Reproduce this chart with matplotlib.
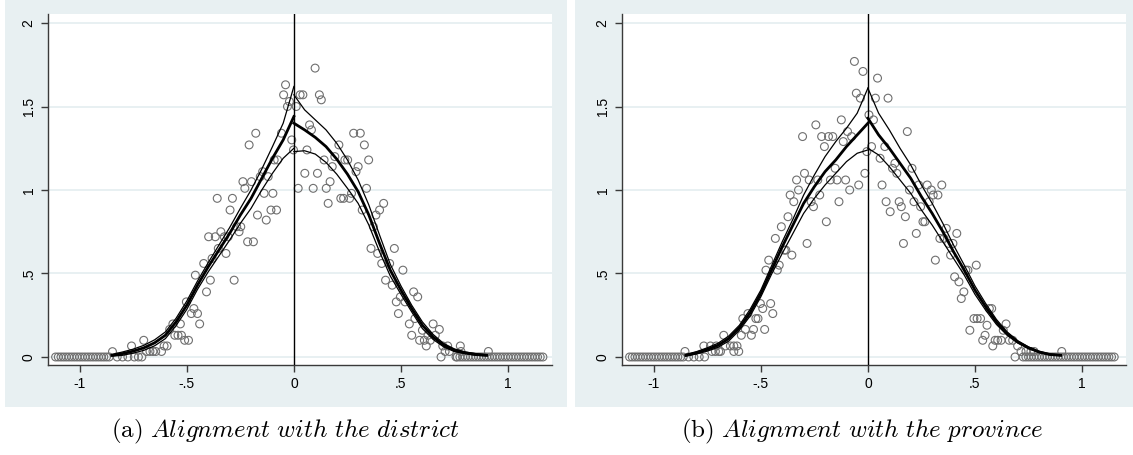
import matplotlib
matplotlib.use("Agg")
import matplotlib.pyplot as plt

plt.rcParams['font.family'] = ['Liberation Sans', 'DejaVu Sans']
plt.rcParams['mathtext.fontset'] = 'cm'

# binned means, alignment with the district
a_x = [-0.847, -0.758, -0.701, -0.688, -0.672, -0.658, -0.645, -0.618, -0.606, -0.592,
       -0.580, -0.565, -0.556, -0.541, -0.525, -0.530, -0.510, -0.492, -0.502, -0.479,
       -0.467, -0.450, -0.440, -0.460, -0.421, -0.408, -0.390, -0.398, -0.382, -0.367,
       -0.358, -0.353, -0.341, -0.325, -0.317, -0.307, -0.298, -0.287, -0.279, -0.267,
       -0.256, -0.248, -0.238, -0.229, -0.216, -0.209, -0.198, -0.189, -0.178, -0.170,
       -0.157, -0.146, -0.139, -0.129, -0.120, -0.107, -0.098, -0.092, -0.081, -0.076,
       -0.058, -0.048, -0.039, -0.030, -0.021, -0.010, -0.002,
       0.011, 0.020, 0.029, 0.042, 0.051, 0.061, 0.073, 0.082, 0.090, 0.099,
       0.110, 0.119, 0.128, 0.141, 0.151, 0.160, 0.169, 0.179, 0.191, 0.210,
       0.219, 0.232, 0.238, 0.251, 0.260, 0.269, 0.279, 0.290, 0.300, 0.310,
       0.319, 0.329, 0.339, 0.349, 0.360, 0.371, 0.383, 0.391, 0.400, 0.410,
       0.419, 0.428, 0.447, 0.459, 0.469, 0.478, 0.488, 0.497, 0.509, 0.519,
       0.539, 0.550, 0.559, 0.565, 0.578, 0.587, 0.600, 0.609, 0.618, 0.626,
       0.637, 0.650, 0.660, 0.679, 0.687, 0.695, 0.706, 0.718, 0.726, 0.757,
       0.777, 0.780, 0.908]
a_y = [0.032, 0.066, 0.10, 0.033, 0.033, 0.033, 0.033, 0.033, 0.066, 0.066,
       0.165, 0.198, 0.13, 0.13, 0.13, 0.198, 0.10, 0.10, 0.33, 0.26,
       0.29, 0.26, 0.198, 0.49, 0.56, 0.39, 0.46, 0.72, 0.59, 0.72,
       0.95, 0.65, 0.75, 0.72, 0.62, 0.72, 0.88, 0.95, 0.46, 0.78,
       0.75, 0.78, 1.05, 1.01, 0.69, 1.27, 1.05, 0.69, 1.34, 0.85,
       1.08, 1.11, 0.98, 0.82, 1.08, 0.88, 0.98, 1.18, 0.88, 1.18,
       1.34, 1.57, 1.63, 1.50, 1.53, 1.30, 1.24,
       1.50, 1.01, 1.57, 1.57, 1.10, 1.24, 1.39, 1.36, 1.01, 1.73,
       1.10, 1.57, 1.54, 1.18, 1.01, 0.92, 1.05, 1.14, 1.20, 1.27,
       0.95, 0.95, 1.18, 1.18, 0.95, 0.98, 1.34, 1.11, 1.14, 1.34,
       0.88, 1.27, 1.01, 1.18, 0.65, 0.78, 0.85, 0.62, 0.88, 0.56,
       0.92, 0.46, 0.56, 0.43, 0.65, 0.33, 0.26, 0.36, 0.52, 0.33,
       0.198, 0.13, 0.39, 0.23, 0.36, 0.10, 0.16, 0.10, 0.066, 0.13,
       0.10, 0.198, 0.13, 0.165, 0.0, 0.066, 0.033, 0.066, 0.033, 0.0,
       0.066, 0.033, 0.033]
a_zero_x = [-1.1125, -1.1, -1.0875, -1.075, -1.0625, -1.05, -1.0375, -1.025, -1.0125, -1.0,
            -0.9875, -0.975, -0.9625, -0.95, -0.9375, -0.925, -0.9125, -0.9, -0.8875, -0.875,
            -0.8625, -0.825, -0.80, -0.775, -0.745, -0.726, -0.71,
            0.7625, 0.775, 0.7875, 0.80, 0.8125, 0.825, 0.8375, 0.85, 0.8625, 0.875,
            0.8875, 0.90, 0.9125, 0.925, 0.9375, 0.95, 0.9625, 0.975, 0.9875, 1.0,
            1.0125, 1.025, 1.0375, 1.05, 1.0625, 1.075, 1.0875, 1.1, 1.1125, 1.125,
            1.1375, 1.15, 1.1625]

# binned means, alignment with the province
b_x = [-0.854, -0.766, -0.735, -0.708, -0.665, -0.642, -0.626, -0.611, -0.728, -0.712,
       -0.696, -0.688, -0.626, -0.603, -0.673, -0.591, -0.584, -0.572, -0.560, -0.544,
       -0.534, -0.523, -0.513, -0.502, -0.491, -0.482, -0.476, -0.463, -0.454, -0.444,
       -0.432, -0.423, -0.414, -0.404, -0.390, -0.383, -0.373, -0.363, -0.355, -0.346,
       -0.333, -0.324, -0.305, -0.296, -0.284, -0.274, -0.265, -0.254, -0.243, -0.234,
       -0.225, -0.216, -0.203, -0.194, -0.184, -0.164, -0.175, -0.144, -0.153, -0.135,
       -0.124, -0.115, -0.104, -0.095, -0.085, -0.076, -0.063, -0.054, -0.043, -0.035,
       -0.023, -0.014, -0.005, 0.005,
       0.017, 0.026, 0.035, 0.045, 0.057, 0.066, 0.079, 0.085, 0.094, 0.104,
       0.115, 0.126, 0.135, 0.146, 0.156, 0.166, 0.175, 0.184, 0.194, 0.206,
       0.215, 0.226, 0.237, 0.246, 0.257, 0.266, 0.277, 0.286, 0.296, 0.305,
       0.315, 0.327, 0.336, 0.345, 0.355, 0.366, 0.377, 0.386, 0.397, 0.405,
       0.415, 0.425, 0.436, 0.448, 0.457, 0.467, 0.476, 0.495, 0.510, 0.526,
       0.506, 0.536, 0.547, 0.556, 0.567, 0.578, 0.583, 0.594, 0.606, 0.622,
       0.632, 0.645, 0.660, 0.676, 0.687, 0.699, 0.715, 0.738, 0.761, 0.776,
       0.905]
b_y = [0.033, 0.066, 0.066, 0.066, 0.066, 0.066, 0.066, 0.066, 0.033, 0.033,
       0.033, 0.033, 0.033, 0.033, 0.13, 0.13, 0.23, 0.165, 0.26, 0.13,
       0.165, 0.23, 0.23, 0.32, 0.29, 0.165, 0.52, 0.58, 0.32, 0.26,
       0.71, 0.52, 0.55, 0.78, 0.64, 0.64, 0.84, 0.97, 0.61, 0.93,
       1.06, 1.00, 1.32, 1.10, 0.68, 1.06, 0.93, 0.90, 1.39, 1.06,
       0.97, 1.32, 1.26, 0.81, 1.32, 1.32, 1.06, 1.06, 1.13, 0.93,
       1.42, 1.29, 1.06, 1.35, 1.00, 1.32, 1.77, 1.58, 1.03, 1.55,
       1.71, 1.10, 1.23, 1.45,
       1.26, 1.42, 1.55, 1.67, 1.19, 1.03, 1.26, 0.93, 1.55, 0.87,
       1.13, 1.16, 1.10, 0.93, 0.90, 0.68, 0.84, 1.35, 1.00, 1.13,
       0.93, 0.74, 1.03, 0.90, 0.81, 0.81, 1.03, 0.93, 1.00, 0.97,
       0.58, 0.97, 0.71, 1.03, 0.71, 0.77, 0.68, 0.61, 0.68, 0.48,
       0.74, 0.45, 0.35, 0.39, 0.52, 0.52, 0.16, 0.23, 0.23, 0.23,
       0.55, 0.10, 0.13, 0.19, 0.29, 0.29, 0.066, 0.10, 0.10, 0.10,
       0.16, 0.198, 0.10, 0.10, 0.0, 0.066, 0.033, 0.033, 0.033, 0.033,
       0.033]
b_zero_x = [-1.1125, -1.1, -1.0875, -1.075, -1.0625, -1.05, -1.0375, -1.025, -1.0125, -1.0,
            -0.9875, -0.975, -0.9625, -0.95, -0.9375, -0.925, -0.9125, -0.9, -0.8875, -0.875,
            -0.8625, -0.8375, -0.8125, -0.7875, -0.7625,
            0.725, 0.7375, 0.75, 0.7625, 0.775, 0.7875, 0.80, 0.8125, 0.825, 0.8375,
            0.85, 0.8625, 0.875, 0.8875, 0.90, 0.9125, 0.925, 0.9375, 0.95, 0.9625,
            0.975, 0.9875, 1.0, 1.0125, 1.025, 1.0375, 1.05, 1.0625, 1.075, 1.0875,
            1.1, 1.1125, 1.125, 1.1375, 1.15]

# local polynomial fits with confidence bands, either side of the cutoff
left_x = [-0.85, -0.80, -0.75, -0.70, -0.65, -0.60, -0.55, -0.50, -0.45, -0.40,
          -0.35, -0.30, -0.25, -0.20, -0.15, -0.10, -0.05, 0.0]
right_x = [0.0, 0.05, 0.10, 0.15, 0.20, 0.25, 0.30, 0.35, 0.40, 0.45,
           0.50, 0.55, 0.60, 0.65, 0.70, 0.75, 0.80, 0.85, 0.90]

a_left_fit = [0.01, 0.02, 0.035, 0.055, 0.085, 0.13, 0.21, 0.31, 0.43, 0.54,
              0.64, 0.74, 0.85, 0.95, 1.07, 1.19, 1.30, 1.44]
a_left_hi = [0.015, 0.03, 0.047, 0.07, 0.103, 0.15, 0.232, 0.335, 0.455, 0.565,
             0.67, 0.775, 0.89, 1.00, 1.125, 1.26, 1.40, 1.62]
a_left_lo = [0.005, 0.01, 0.023, 0.04, 0.067, 0.11, 0.188, 0.285, 0.405, 0.51,
             0.605, 0.70, 0.80, 0.89, 1.00, 1.10, 1.19, 1.25]
a_right_fit = [1.40, 1.36, 1.315, 1.26, 1.185, 1.095, 0.99, 0.85, 0.68, 0.52,
               0.40, 0.29, 0.19, 0.12, 0.07, 0.04, 0.025, 0.015, 0.01]
a_right_hi = [1.57, 1.48, 1.42, 1.36, 1.28, 1.18, 1.06, 0.91, 0.73, 0.555,
              0.425, 0.31, 0.21, 0.135, 0.08, 0.048, 0.03, 0.02, 0.013]
a_right_lo = [1.23, 1.235, 1.215, 1.165, 1.095, 1.01, 0.92, 0.79, 0.63, 0.485,
              0.375, 0.27, 0.17, 0.105, 0.06, 0.032, 0.02, 0.01, 0.007]

b_left_fit = [0.01, 0.025, 0.045, 0.07, 0.11, 0.175, 0.265, 0.38, 0.52, 0.66,
              0.79, 0.92, 1.02, 1.11, 1.18, 1.26, 1.33, 1.40]
b_left_hi = [0.015, 0.032, 0.055, 0.082, 0.125, 0.19, 0.285, 0.40, 0.545, 0.69,
             0.825, 0.97, 1.09, 1.20, 1.29, 1.37, 1.46, 1.61]
b_left_lo = [0.005, 0.018, 0.035, 0.058, 0.095, 0.16, 0.245, 0.36, 0.495, 0.62,
             0.74, 0.86, 0.95, 1.03, 1.10, 1.17, 1.22, 1.24]
b_right_fit = [1.43, 1.33, 1.25, 1.16, 1.07, 0.96, 0.86, 0.75, 0.63, 0.52,
               0.40, 0.30, 0.21, 0.14, 0.09, 0.055, 0.03, 0.015, 0.01]
b_right_hi = [1.61, 1.46, 1.36, 1.25, 1.15, 1.03, 0.92, 0.80, 0.67, 0.55,
              0.425, 0.32, 0.225, 0.15, 0.097, 0.06, 0.034, 0.018, 0.012]
b_right_lo = [1.25, 1.21, 1.14, 1.06, 0.98, 0.88, 0.79, 0.69, 0.59, 0.49,
              0.375, 0.28, 0.195, 0.13, 0.083, 0.05, 0.026, 0.012, 0.008]

xticks = [-1, -0.5, 0, 0.5, 1]
xlabels = ['-1', '-.5', '0', '.5', '1']
yticks = [0, 0.5, 1, 1.5, 2]
ylabels = ['0', '.5', '1', '1.5', '2']

BG = '#E8F0F2'
GRID = '#E4EEF0'
AXC = '#3A3A3A'

fig = plt.figure(figsize=(11.33, 4.55), dpi=100)
fig.patch.set_facecolor('white')

# graph regions behind each plot
for x0 in (5 / 1133, 575 / 1133):
    bg = fig.add_axes([x0, 1 - 407 / 455, 562 / 1133, 407 / 455], zorder=-5)
    bg.set_facecolor(BG)
    bg.set_xticks([])
    bg.set_yticks([])
    for s in bg.spines.values():
        s.set_visible(False)


def panel(rect, sx, sy, zx, lfit, lhi, llo, rfit, rhi, rlo):
    ax = fig.add_axes(rect, zorder=1)
    ax.set_facecolor('white')
    ax.set_xlim(-1.148, 1.205)
    ax.set_ylim(-0.048, 2.054)
    for y in yticks:
        ax.axhline(y, color=GRID, lw=1.2, zorder=0)
    ax.scatter(sx, sy, s=32, facecolors='none', edgecolors='#6F6F6F',
               linewidths=0.8, zorder=2)
    ax.scatter(zx, [0] * len(zx), s=32, facecolors='none', edgecolors='#6F6F6F',
               linewidths=0.8, zorder=2)
    for xs, fit, hi, lo in ((left_x, lfit, lhi, llo), (right_x, rfit, rhi, rlo)):
        ax.plot(xs, hi, color='black', lw=0.9, zorder=3)
        ax.plot(xs, lo, color='black', lw=0.9, zorder=3)
        ax.plot(xs, fit, color='black', lw=2.0, zorder=3)
    ax.axvline(0, color='black', lw=1.0, zorder=4)
    for s in ('top', 'right'):
        ax.spines[s].set_visible(False)
    for s in ('left', 'bottom'):
        ax.spines[s].set_color(AXC)
        ax.spines[s].set_linewidth(1.0)
    ax.set_xticks(xticks)
    ax.set_xticklabels(xlabels)
    ax.set_yticks(yticks)
    ax.set_yticklabels(ylabels, rotation=90, va='center')
    ax.tick_params(direction='out', length=5, width=1.0, color=AXC,
                   labelsize=10, labelcolor='black', pad=4)
    return ax


panel([48 / 1133, 1 - 365 / 455, 504 / 1133, 351 / 455],
      a_x, a_y, a_zero_x, a_left_fit, a_left_hi, a_left_lo,
      a_right_fit, a_right_hi, a_right_lo)
panel([622 / 1133, 1 - 365 / 455, 504 / 1133, 351 / 455],
      b_x, b_y, b_zero_x, b_left_fit, b_left_hi, b_left_lo,
      b_right_fit, b_right_hi, b_right_lo)

fig.text(285.5 / 1133, 1 - 431 / 455,
         r'$\mathrm{(a)}\ \mathit{Alignment\ with\ the\ district}$',
         ha='center', va='center', fontsize=18)
fig.text(862 / 1133, 1 - 431 / 455,
         r'$\mathrm{(b)}\ \mathit{Alignment\ with\ the\ province}$',
         ha='center', va='center', fontsize=18)

fig.savefig('out.png', dpi=100)
